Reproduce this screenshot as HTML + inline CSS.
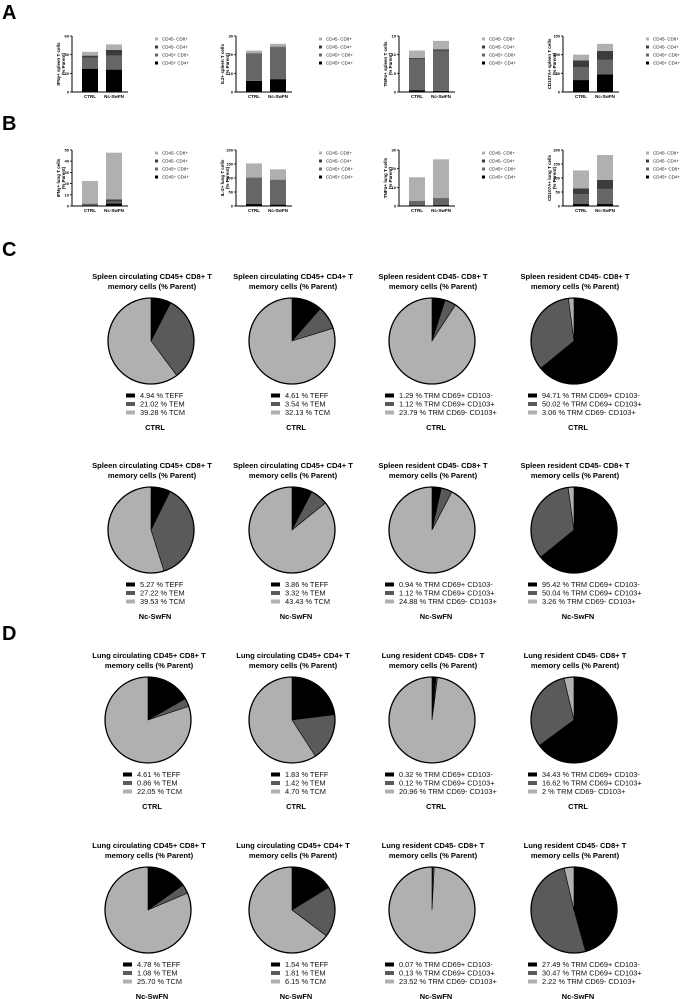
<!DOCTYPE html>
<html><head><meta charset="utf-8"><style>
html,body{margin:0;padding:0;background:#fff;}
svg{display:block;font-family:"Liberation Sans",Arial,sans-serif;}
</style></head><body>
<svg id="fig" width="683" height="999" viewBox="0 0 683 999" xmlns="http://www.w3.org/2000/svg">
<text x="2" y="19" font-size="20" font-weight="bold">A</text>
<text x="2" y="130" font-size="20" font-weight="bold">B</text>
<text x="2" y="256" font-size="20" font-weight="bold">C</text>
<text x="2" y="640" font-size="20" font-weight="bold">D</text>
</svg>
<script>
// ---- bar chart data ----
const groups = ["CTRL", "Nc-SwFN"];
const seriesNames = ["CD45+ CD4+", "CD45+ CD8+", "CD45- CD4+", "CD45- CD8+"];
const legendOrder = ["CD45- CD8+", "CD45- CD4+", "CD45+ CD8+", "CD45+ CD4+"];
const barTitlesA = ["IFNγ+ spleen T cells", "IL2+ spleen T cells", "TNFα+ spleen T cells", "CD107A+ spleen T cells"];
const barTitlesB = ["IFNγ+ lung T cells", "IL-2+ lung T cells", "TNFα+ lung T cells", "CD107A+ lung T cells"];
const ticksA = [[0,20,40,60],[0,10,20,30],[0,5,10,15],[0,50,100,150]];
const ticksB = [[0,10,20,30,40,50],[0,50,100,150,200],[0,10,20,30],[0,50,100,150,200]];
// values per chart: [CTRL segments, Nc segments] in seriesNames order
const valuesA1 = [[25,12,2,4],[24,15,6,6]];
const valuesA2 = [[6,14.2,0.5,1.5],[6.9,17.1,0.3,1.5]];
const valuesA3 = [[0.5,8.35,0.25,2],[0.3,10.7,0.4,2.3]];
const valuesA4 = [[32,34,19,15],[47,39,24,19]];
const valuesB1 = [[0.3,1.5,0.3,20.2],[2.4,1.5,2.1,41.6]];
const valuesB2 = [[7,94,1,50],[5,88,1,37]];
const valuesB3 = [[0.2,2.5,0.1,12.6],[0.5,3.7,0.2,20.6]];
const valuesB4 = [[7,35,21,64],[7,54,32,89]];

// ---- pie data ----
const pieTitlesC = [["Spleen circulating CD45+ CD8+ T","memory cells (% Parent)"],["Spleen circulating CD45+ CD4+ T","memory cells (% Parent)"],["Spleen resident CD45- CD8+ T","memory cells (% Parent)"],["Spleen resident CD45- CD8+ T","memory cells (% Parent)"]];
const pieTitlesD = [["Lung circulating CD45+ CD8+ T","memory cells (% Parent)"],["Lung circulating CD45+ CD4+ T","memory cells (% Parent)"],["Lung resident CD45- CD8+ T","memory cells (% Parent)"],["Lung resident CD45- CD8+ T","memory cells (% Parent)"]];
const circNames = ["TEFF","TEM","TCM"];
const resNames = ["TRM CD69+ CD103-","TRM CD69+ CD103+","TRM CD69- CD103+"];
const pieC1 = [[4.94,21.02,39.28],[4.61,3.54,32.13],[1.29,1.12,23.79],[94.71,50.02,3.06]];
const pieC2 = [[5.27,27.22,39.53],[3.86,3.32,43.43],[0.94,1.12,24.88],[95.42,50.04,3.26]];
const pieD1 = [[4.61,0.86,22.05],[1.83,1.42,4.70],[0.32,0.12,20.96],[34.43,16.62,2]];
const pieD2 = [[4.78,1.08,25.70],[1.54,1.81,6.15],[0.07,0.13,23.52],[27.49,30.47,2.22]];

const NS = "http://www.w3.org/2000/svg";
const svg = document.getElementById("fig");
function mk(tag, attrs, parent, txt){
  const e = document.createElementNS(NS, tag);
  for (const k in attrs) e.setAttribute(k, attrs[k]);
  if (txt !== undefined) e.textContent = txt;
  (parent||svg).appendChild(e);
  return e;
}
function fmt(v){ return Number.isInteger(v) ? String(v) : v.toFixed(2); }
const barColors = ["#000000","#666666","#3c3c3c","#b0b0b0"];
const legColors = {"CD45- CD8+":"#b0b0b0","CD45- CD4+":"#3c3c3c","CD45+ CD8+":"#666666","CD45+ CD4+":"#000000"};

function barChart(x0, top, bottom, ticks, vals, title, name){
  const g = mk("g", {});
  
  
  const max = ticks[ticks.length-1];
  const y = v => bottom - (v/max)*(bottom-top);
  const bx = [x0+10, x0+34];
  vals.forEach((segs, gi) => {
    let acc = 0;
    segs.forEach((v, si) => {
      const r = mk("rect", {x: bx[gi], y: y(acc+v), width: 16, height: Math.max(0, y(acc)-y(acc+v)), fill: barColors[si]}, g);
      
      
      acc += v;
    });
    const t = mk("text", {x: bx[gi]+8, y: bottom+6, "font-size": 4.5, "font-weight": "bold", "text-anchor": "middle"}, g, groups[gi]);
    
    
  });
  const ax = mk("path", {d: `M${x0} ${top} V${bottom} H${x0+56}`, stroke: "#000", "stroke-width": 1, fill: "none"}, g);
  
  
  ticks.forEach(tv => {
    mk("line", {x1: x0-2, x2: x0, y1: y(tv), y2: y(tv), stroke: "#000", "stroke-width": 0.8}, g);
    const tl = mk("text", {x: x0-3, y: y(tv)+1.5, "font-size": 4, "font-weight": "bold", "text-anchor": "end"}, g, tv);
    
    
  });
  const cy = (top+bottom)/2;
  const yt = mk("text", {transform: `translate(${x0-12},${cy}) rotate(-90)`, "font-size": 4.5, "font-weight": "bold", "text-anchor": "middle"}, g);
  
  
  mk("tspan", {x: 0, dy: 0}, yt, title);
  mk("tspan", {x: 0, dy: 5}, yt, "(% Parent)");
  legendOrder.forEach((n, i) => {
    const ly = top + 3 + i*8;
    const s = mk("rect", {x: x0+83, y: ly-1.5, width: 3, height: 3, fill: legColors[n]}, g);
    
    
    const lt = mk("text", {x: x0+90, y: ly+1.6, "font-size": 4.5, fill: "#222"}, g, n);
    
    
  });
}
const barXs = [72, 236, 399, 563];
const valsA = [valuesA1, valuesA2, valuesA3, valuesA4];
const valsB = [valuesB1, valuesB2, valuesB3, valuesB4];
barXs.forEach((x, i) => barChart(x, 36, 92, ticksA[i], valsA[i], barTitlesA[i], 'bar-chart-a' + (i+1)));
barXs.forEach((x, i) => barChart(x, 150, 206, ticksB[i], valsB[i], barTitlesB[i], 'bar-chart-b' + (i+1)));

// ---- pies ----
const pieColors = ["#000000","#5a5a5a","#b0b0b0"];
function pie(cx, cy, r, vals, titles, names, legX, groupLabel, name){
  const g = mk("g", {});
  
  
  titles.forEach((t, i) => {
    const tt = mk("text", {x: cx+1, y: cy-62+i*10, "font-size": 7.6, "font-weight": "bold", "text-anchor": "middle"}, g, t);
    
    
  });
  const tot = vals.reduce((a,b)=>a+b,0);
  let a0 = -Math.PI/2;
  vals.forEach((v, i) => {
    const a1 = a0 + v/tot*2*Math.PI;
    const large = (a1-a0) > Math.PI ? 1 : 0;
    const d = `M${cx} ${cy} L${cx+r*Math.cos(a0)} ${cy+r*Math.sin(a0)} A${r} ${r} 0 ${large} 1 ${cx+r*Math.cos(a1)} ${cy+r*Math.sin(a1)} Z`;
    const p = mk("path", {d: d, fill: pieColors[i], stroke: "#000", "stroke-width": 0.6}, g);
    
    
    a0 = a1;
  });
  mk("circle", {cx: cx, cy: cy, r: r, fill: "none", stroke: "#000", "stroke-width": 1.3}, g);
  vals.forEach((v, i) => {
    const ly = cy + 55 + i*8.5;
    const s = mk("rect", {x: legX, y: ly-2.5, width: 9, height: 4, fill: pieColors[i]}, g);
    
    
    const lt = mk("text", {x: legX+14, y: ly+2.2, "font-size": 7.4, fill: "#111"}, g, fmt(v) + " % " + names[i]);
    
    
  });
  const gl = mk("text", {x: cx+4, y: cy+89, "font-size": 7.4, "font-weight": "bold", "text-anchor": "middle"}, g, groupLabel);
  
  
}
const pieXs = [151, 292, 432, 574];
const legDx = [-25, -21, -47, -46];
const rows = [
  {cy: 341, data: pieC1, titles: pieTitlesC, label: "CTRL", n: "c-ctrl"},
  {cy: 530, data: pieC2, titles: pieTitlesC, label: "Nc-SwFN", n: "c-nc"},
  {cy: 720, data: pieD1, titles: pieTitlesD, label: "CTRL", n: "d-ctrl"},
  {cy: 910, data: pieD2, titles: pieTitlesD, label: "Nc-SwFN", n: "d-nc"}
];
rows.forEach(row => {
  pieXs.forEach((x, i) => {
    const names = i < 2 ? circNames : resNames;
    const cx = (row.n.startsWith("d") && i === 0) ? x - 3 : x;
    pie(cx, row.cy, 43, row.data[i], row.titles[i], names, cx + legDx[i], row.label, 'pie-' + row.n + '-' + (i+1));
  });
});
</script>
</body></html>
